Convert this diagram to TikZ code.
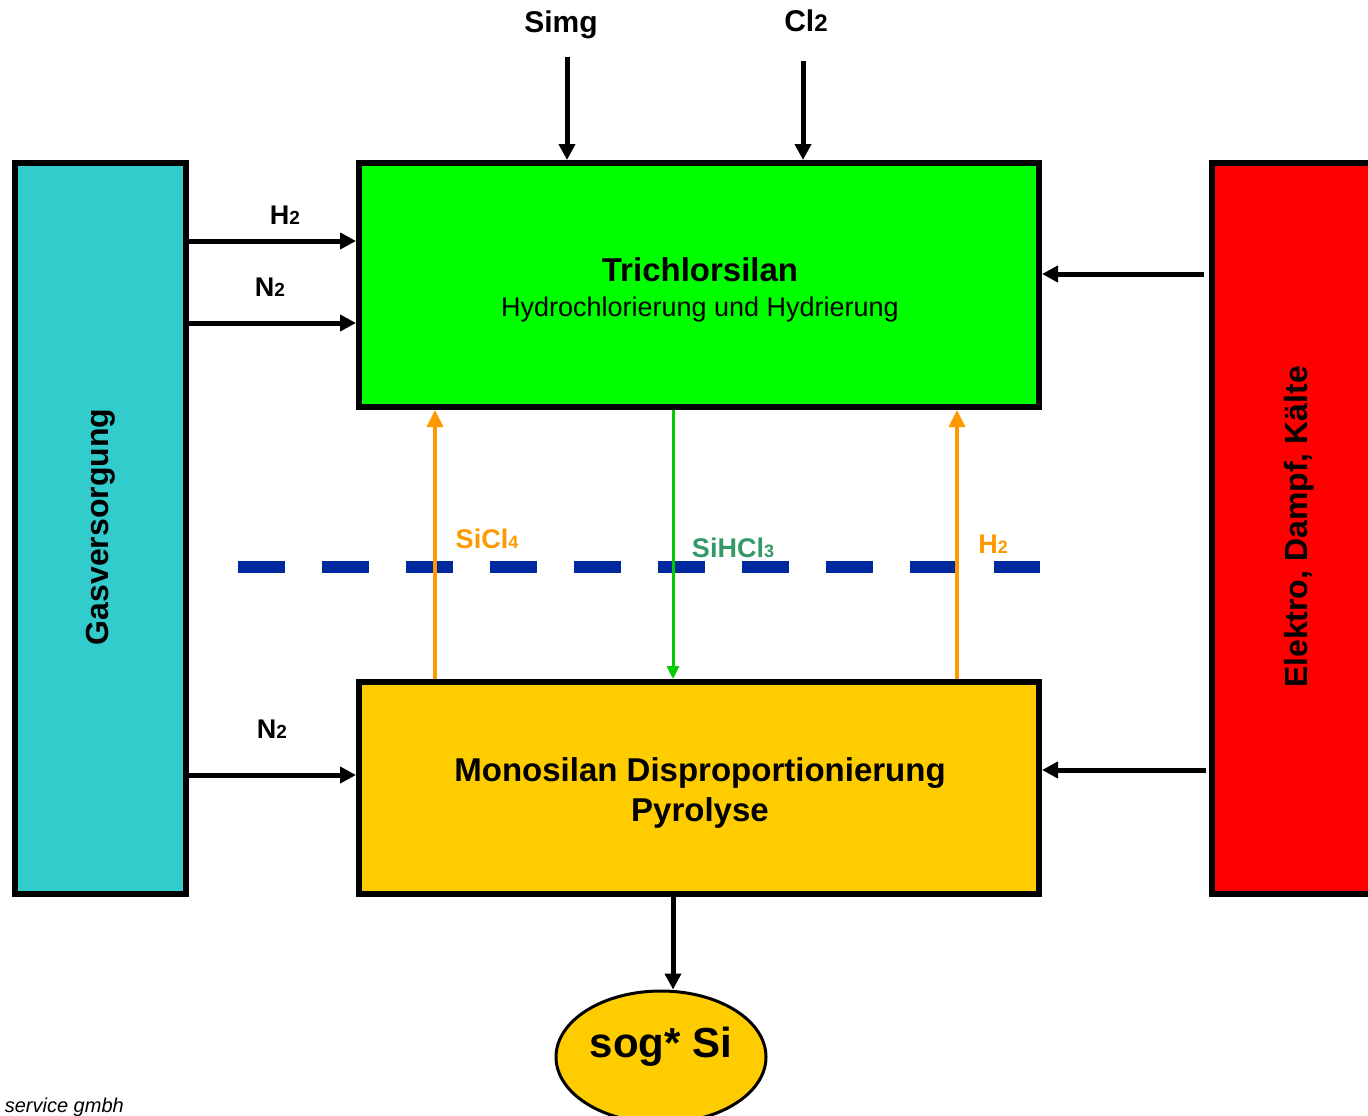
\documentclass[tikz,border=0pt]{standalone}
\usepackage{fontspec}
\setmainfont{Liberation Sans}
\usetikzlibrary{arrows.meta,shapes.geometric}
\definecolor{gascyan}{HTML}{33CCCC}
\definecolor{boxgreen}{HTML}{00FF00}
\definecolor{boxyellow}{HTML}{FFCC00}
\definecolor{boxred}{HTML}{FF0000}
\definecolor{arrorange}{HTML}{FF9900}
\definecolor{arrgreen}{HTML}{00CC00}
\definecolor{txtgreen}{HTML}{339966}
\definecolor{dashblue}{RGB}{0,41,160}
\newcommand\fsz[1]{\fontsize{#1pt}{#1pt}\selectfont}
\begin{document}
\begin{tikzpicture}[x=1pt,y=-1pt,
  box/.style={draw=black, line width=6pt, rectangle, inner sep=0pt},
  blk/.style={draw=black, line width=5pt, -{Triangle[length=16pt,width=16pt]}},
  orng/.style={draw=arrorange, line width=3.5pt, -{Triangle[length=17pt,width=16pt]}},
  grn/.style={draw=arrgreen, line width=3pt, -{Triangle[length=13pt,width=12pt]}},
  lbl/.style={anchor=base, inner sep=0pt, font=\fsz{27}\bfseries},
  toplbl/.style={anchor=base, inner sep=0pt, font=\fsz{30}\bfseries},
  title/.style={anchor=base, inner sep=0pt, font=\fsz{33}\bfseries},
  sidetxt/.style={anchor=base, inner sep=0pt, rotate=90, font=\fsz{32}\bfseries}]
\useasboundingbox (0,0) rectangle (1368,1116);
\clip (0,0) rectangle (1368,1116);

% boxes
\node[box, fill=gascyan, minimum width=171pt, minimum height=731pt] (gas) at (100.5,528.5) {};
\node[box, fill=boxgreen, minimum width=680pt, minimum height=244pt] (tcs) at (699,285) {};
\node[box, fill=boxyellow, minimum width=680pt, minimum height=212pt] (mono) at (699,788) {};
\node[box, fill=boxred, minimum width=210pt, minimum height=731pt] (util) at (1317,528.5) {};
\node[draw=black, line width=3pt, ellipse, fill=boxyellow, minimum width=210pt, minimum height=132pt, inner sep=0pt] (si) at (661,1057) {};

% box texts
\node[title] (tcsT) at (700,281) {Trichlorsilan};
\node[anchor=base, inner sep=0pt, font=\fsz{27}] (tcsS) at (700,316) {Hydrochlorierung und Hydrierung};
\node[title] (monoT) at (700,781) {Monosilan Disproportionierung};
\node[title] (monoS) at (700,821) {Pyrolyse};
\node[anchor=base, inner sep=0pt, font=\fsz{42}\bfseries] (siT) at (661,1057) {sog* Si};
\node[sidetxt] (gasT) at (108,527) {Gasversorgung};
\node[sidetxt] (utilT) at (1307,527) {Elektro, Dampf, Kälte};

% dashed boundary
\coordinate (dA) at (238,567);
\coordinate (dB) at (1040,567);
\draw[dashblue, line width=12pt, dash pattern=on 47pt off 37pt] (dA) -- (dB);

% top inputs
\node[toplbl] (simgL) at (561,33) {Simg};
\node[toplbl] (cl2L) at (806,32) {Cl{\fsz{24}2}};
\coordinate (simgS) at (567,57);
\coordinate (cl2S) at (803,61);
\draw[blk] (simgS) -- (simgS |- tcs.north);
\draw[blk] (cl2S) -- (cl2S |- tcs.north);

% gas supply arrows
\coordinate (yH) at (0,241);
\coordinate (yN) at (0,323);
\coordinate (yN3) at (0,775);
\draw[blk] (gas.east |- yH) -- (tcs.west |- yH);
\draw[blk] (gas.east |- yN) -- (tcs.west |- yN);
\draw[blk] (gas.east |- yN3) -- (mono.west |- yN3);
\node[lbl] (h2L) at (285,224) {H{\fsz{19}2}};
\node[lbl] (n2L) at (270,296) {N{\fsz{19}2}};
\node[lbl] (n3L) at (272,738) {N{\fsz{19}2}};

% utility arrows
\coordinate (r1) at (1204,274);
\coordinate (r2) at (1206,770);
\draw[blk] (r1) -- (r1 -| tcs.east);
\draw[blk] (r2) -- (r2 -| mono.east);

% internal streams
\coordinate (xs) at (435,0);
\coordinate (xg) at (673,0);
\coordinate (xh) at (957,0);
\draw[orng] (mono.north -| xs) -- (tcs.south -| xs);
\draw[orng] (mono.north -| xh) -- (tcs.south -| xh);
\draw[grn] (tcs.south -| xg) -- (mono.north -| xg);
\node[lbl, text=arrorange] (sicl4L) at (487,548) {SiCl{\fsz{18}4}};
\node[lbl, text=txtgreen] (sihcl3L) at (733,557) {SiHCl{\fsz{18}3}};
\node[lbl, text=arrorange] (h2oL) at (993,553) {H{\fsz{18}2}};

% product
\draw[blk] (mono.south -| xg) -- (si.north -| xg);

% footer
\node[anchor=base east, inner sep=0pt, font=\fsz{20}\itshape] (foot) at (124,1112) {service gmbh};
\end{tikzpicture}
\end{document}
